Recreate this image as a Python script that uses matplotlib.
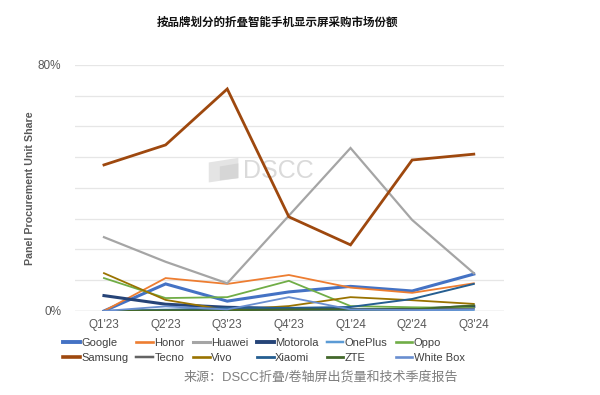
import matplotlib
matplotlib.use("Agg")
import matplotlib.pyplot as plt
from matplotlib.lines import Line2D
from matplotlib.patches import Polygon

quarters = ["Q1'23", "Q2'23", "Q3'23", "Q4'23", "Q1'24", "Q2'24", "Q3'24"]

google = [0, 8.8, 3.2, 6.2, 8.0, 6.5, 12.0]
honor = [0, 10.7, 8.8, 11.7, 7.6, 5.9, 9.0]
huawei = [24.0, 16.0, 9.0, 31.0, 53.0, 29.6, 12.3]
motorola = [5.0, 2.2, 1.2, 0.8, 0.5, 0.5, 1.5]
oneplus = [0, 0.5, 0.3, 0.3, 0.3, 0.2, 0.3]
oppo = [10.7, 4.2, 4.5, 9.8, 1.6, 1.2, 1.0]
samsung = [47.5, 54.0, 72.2, 30.6, 21.5, 49.1, 51.0]
tecno = [0, 0, 0, 0.3, 0.5, 0.5, 0.8]
vivo = [12.3, 3.6, 0.3, 1.6, 4.5, 3.5, 2.3]
xiaomi = [0, 0.3, 1.0, 1.0, 1.3, 3.9, 8.8]
zte = [0, 0.2, 0.2, 0.5, 0.5, 0.5, 1.8]
whitebox = [0, 1.5, 0.5, 4.5, 0.5, 0.3, 0.5]

series = [
    ("Google", google, "#4472C4", 2.2),
    ("Honor", honor, "#ED7D31", 1.3),
    ("Huawei", huawei, "#A5A5A5", 1.6),
    ("Motorola", motorola, "#264478", 2.2),
    ("OnePlus", oneplus, "#5B9BD5", 1.2),
    ("Oppo", oppo, "#70AD47", 1.3),
    ("Samsung", samsung, "#9E480E", 2.0),
    ("Tecno", tecno, "#636363", 1.2),
    ("Vivo", vivo, "#997300", 1.3),
    ("Xiaomi", xiaomi, "#255E91", 1.4),
    ("ZTE", zte, "#43682B", 1.4),
    ("White Box", whitebox, "#698ED0", 1.3),
]

plt.rcParams['font.family'] = ['Liberation Sans', 'Noto Sans CJK SC', 'DejaVu Sans']

fig = plt.figure(figsize=(6.0, 3.95), dpi=100)
ax = fig.add_axes([0.125, 0.2127, 0.715, 0.6228])

x = list(range(len(quarters)))
for name, vals, color, lw in series:
    ax.plot(x, vals, color=color, lw=lw, solid_joinstyle='miter', zorder=3)

ax.set_xlim(-0.47, 6.49)
ax.set_ylim(0, 80)
ax.set_xticks(x)
ax.set_xticklabels(quarters, fontsize=8.5, color="#595959")
ax.set_yticks([0, 80])
ax.set_yticklabels(["0%", "80%"], fontsize=8.5, color="#595959")
ax.set_yticks(range(10, 80, 10), minor=True)
ax.grid(True, which='both', axis='y', color="#E6E6E6", lw=0.9, zorder=0)
ax.tick_params(axis='both', which='both', length=0, pad=6)
ax.tick_params(axis='y', pad=10)
for s in ax.spines.values():
    s.set_visible(False)
ax.axhline(0, color="#D9D9D9", lw=1.0, zorder=1)
ax.set_ylabel("Panel Procurement Unit Share", fontsize=7.7, color="#595959",
              fontweight='bold', labelpad=2)

# watermark
ax.text(2.25, 45.5, "DSCC", fontsize=18, color="#DADADA",
        ha='left', va='center', zorder=2)
ax.add_patch(Polygon([[1.70, 41.8], [2.18, 43.2], [2.18, 49.8], [1.70, 48.3]],
                     closed=True, facecolor="#E4E4E4", edgecolor='none', zorder=2))
ax.add_patch(Polygon([[1.88, 42.5], [2.18, 43.2], [2.18, 48.0], [1.88, 47.0]],
                     closed=True, facecolor="#D6D6D6", edgecolor='none', zorder=2))

fig.text(0.463, 0.944, "按品牌划分的折叠智能手机显示屏采购市场份额",
         ha='center', va='center', fontsize=8.3, fontweight='bold',
         family=['Noto Sans CJK SC', 'DejaVu Sans'], color="#111111")

handles = [Line2D([0], [0], color=c, lw=lw + 0.6) for _, _, c, lw in series]
labels = [n for n, _, _, _ in series]
order = []
for i in range(6):
    order += [i, i + 6]
leg = fig.legend([handles[i] for i in order], [labels[i] for i in order],
                 ncol=6, loc='upper left', bbox_to_anchor=(0.105, 0.145),
                 frameon=False, fontsize=8, handlelength=1.5, handletextpad=0.12,
                 columnspacing=0.75, labelspacing=0.45, borderaxespad=0, borderpad=0)
for t in leg.get_texts():
    t.set_color("#404040")

fig.text(0.535, 0.046, "来源：DSCC折叠/卷轴屏出货量和技术季度报告",
         ha='center', va='center', fontsize=9.4, color="#7F7F7F",
         family=['Liberation Sans', 'Noto Sans CJK SC', 'DejaVu Sans'])

fig.savefig("out.png", dpi=100)
